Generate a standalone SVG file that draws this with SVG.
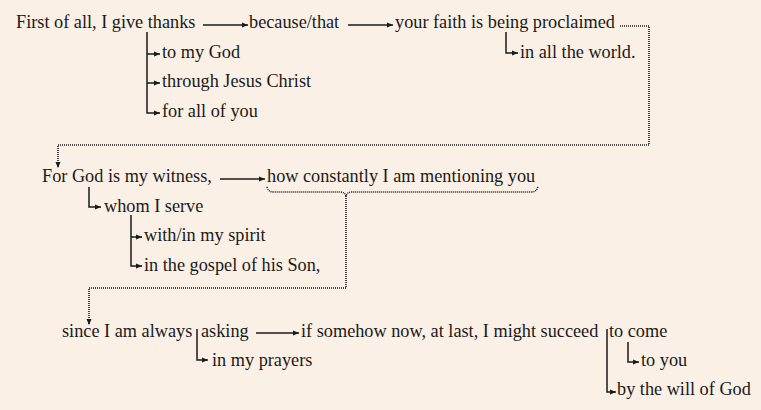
<svg xmlns="http://www.w3.org/2000/svg" width="761" height="410" viewBox="0 0 761 410">
<style>
text{font-family:"Liberation Serif","Times New Roman",serif;font-size:18.25px;fill:#1a1a1a}
.c{fill:none;stroke:#1a1a1a;stroke-width:1.5}
.d{fill:none;stroke:#1a1a1a;stroke-width:1.6;stroke-dasharray:1 1}
</style>
<defs>
<marker id="ah" markerUnits="userSpaceOnUse" markerWidth="7" markerHeight="6" refX="6" refY="3" orient="auto">
<path d="M0,0.5 L6,3 L0,5.5 z" fill="#1a1a1a"/>
</marker>
</defs>
<rect width="761" height="410" fill="#faf0e6"/>
<g id="connectors">
<path class="c" d="M203,25 H248" marker-end="url(#ah)"/>
<path class="c" d="M348,25 H393" marker-end="url(#ah)"/>
<path class="c" d="M147,32 V113 H160" marker-end="url(#ah)"/>
<path class="c" d="M147,54 H160" marker-end="url(#ah)"/>
<path class="c" d="M147,83 H160" marker-end="url(#ah)"/>
<path class="c" d="M506,32 V53 H518" marker-end="url(#ah)"/>
<path class="d" d="M620,26 H649 V145 H58 V168" marker-end="url(#ah)"/>
<path class="c" d="M220,179 H265" marker-end="url(#ah)"/>
<path class="c" d="M89,187 V207 H101" marker-end="url(#ah)"/>
<path class="c" d="M131,215 V266 H142" marker-end="url(#ah)"/>
<path class="c" d="M131,237 H142" marker-end="url(#ah)"/>
<path class="d" d="M267,187 Q268,192 274,192 H340 Q345,192 346,196 Q347,192 352,192 H531 Q537,192 538,186"/>
<path class="d" d="M346,196 V288 H89 V325" marker-end="url(#ah)"/>
<path class="c" d="M197,329 V360 H208" marker-end="url(#ah)"/>
<path class="c" d="M256,333 H299" marker-end="url(#ah)"/>
<path class="c" d="M607,329 V392 H616" marker-end="url(#ah)"/>
<path class="c" d="M628,342 V362 H639" marker-end="url(#ah)"/>
</g>
<g id="n1"><text x="16" y="28">First of all, I give thanks</text></g>
<g id="n2"><text x="249" y="28">because/that</text></g>
<g id="n3"><text x="395" y="28">your faith is being proclaimed</text></g>
<g id="n4"><text x="162" y="58">to my God</text></g>
<g id="n5"><text x="520" y="58">in all the world.</text></g>
<g id="n6"><text x="162" y="87">through Jesus Christ</text></g>
<g id="n7"><text x="162" y="117">for all of you</text></g>
<g id="n8"><text x="42" y="182">For God is my witness,</text></g>
<g id="n9"><text x="267" y="182">how constantly I am mentioning you</text></g>
<g id="n10"><text x="104" y="212">whom I serve</text></g>
<g id="n11"><text x="144" y="241">with/in my spirit</text></g>
<g id="n12"><text x="144" y="271">in the gospel of his Son,</text></g>
<g id="n13"><text x="62" y="337">since I am always</text></g>
<g id="n14"><text x="201" y="337">asking</text></g>
<g id="n15"><text x="301" y="337">if somehow now, at last, I might succeed</text></g>
<g id="n16"><text x="609" y="337">to come</text></g>
<g id="n17"><text x="212" y="366">in my prayers</text></g>
<g id="n18"><text x="641" y="366">to you</text></g>
<g id="n19"><text x="617" y="395">by the will of God</text></g>
</svg>
